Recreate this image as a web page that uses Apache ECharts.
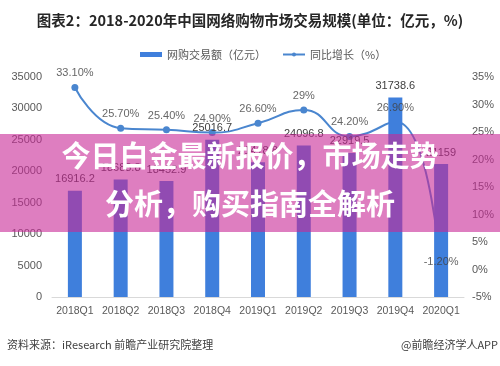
<!DOCTYPE html>
<html>
<head>
<meta charset="utf-8">
<script src="https://cdn.jsdelivr.net/npm/echarts@6/dist/echarts.min.js"></script>
<style>html,body{margin:0;padding:0;background:#fff}#c{width:500px;height:366px}</style>
</head>
<body>
<div id="c"></div>
<script>
var categories = ['2018Q1','2018Q2','2018Q3','2018Q4','2019Q1','2019Q2','2019Q3','2019Q4','2020Q1'];
var volume = [16916.2, 18688.8, 18452.9, 25016.7, 21418.8, 24096.8, 22919.5, 31738.6, 21159];
var growth = [33.1, 25.7, 25.4, 24.9, 26.6, 29, 24.2, 26.9, -1.2];
var growthLabels = ['33.10%','25.70%','25.40%','24.90%','26.60%','29%','24.20%','26.90%','-1.20%'];
var leftTicks = {min: 0, max: 35000, interval: 5000};
var rightTicks = {min: -5, max: 35, interval: 5};
var titleText = '图表2：2018-2020年中国网络购物市场交易规模(单位：亿元，%)';
var seriesNames = ['网购交易额（亿元）', '同比增长（%）'];
var sourceText = '资料来源：iResearch 前瞻产业研究院整理';
var creditText = '@前瞻经济学人APP';
var overlayLines = ['今日白金最新报价，市场走势', '分析，购买指南全解析'];

var FF = "'Liberation Sans', 'Noto Sans CJK SC', sans-serif";
var CJK = "'Noto Sans CJK SC', sans-serif";
var chart = echarts.init(document.getElementById('c'), null, {renderer: 'canvas'});
chart.setOption({
  animation: false,
  backgroundColor: '#fff',
  textStyle: {fontFamily: FF},
  title: {
    text: titleText, left: 'center', top: 8,
    textStyle: {fontSize: 14.5, fontWeight: 'bold', color: '#262626', fontFamily: CJK}
  },
  legend: {
    top: 44, left: 135, itemGap: 16, itemWidth: 22, itemHeight: 5,
    textStyle: {fontSize: 11, color: '#595959', fontFamily: CJK},
    data: [{name: seriesNames[0], icon: 'rect'}, {name: seriesNames[1]}]
  },
  grid: {left: 52, right: 36, top: 77, bottom: 69, containLabel: false},
  xAxis: {
    type: 'category', data: categories,
    axisLine: {lineStyle: {color: '#d9d9d9'}},
    axisTick: {show: false},
    axisLabel: {color: '#595959', fontSize: 10.5, margin: 9, interval: 0}
  },
  yAxis: [{
    type: 'value', min: leftTicks.min, max: leftTicks.max, interval: leftTicks.interval,
    axisLine: {show: false}, axisTick: {show: false}, splitLine: {show: false},
    axisLabel: {color: '#595959', fontSize: 11, margin: 10, formatter: function (v) { return String(v); }}
  }, {
    type: 'value', min: rightTicks.min, max: rightTicks.max, interval: rightTicks.interval,
    axisLine: {show: false}, axisTick: {show: false}, splitLine: {show: false},
    axisLabel: {color: '#595959', fontSize: 11, margin: 8, formatter: function (v) { return v + '%'; }}
  }],
  series: [{
    name: seriesNames[0], type: 'bar', data: volume, barWidth: 14, z: 3,
    itemStyle: {color: '#3f7fdc'},
    label: {show: true, position: 'top', distance: 6, color: '#404040', fontSize: 11,
      formatter: function (p) { return String(p.value); }}
  }, {
    name: seriesNames[1], type: 'line', yAxisIndex: 1, data: growth, smooth: 0.5, z: 2,
    symbol: 'circle', symbolSize: 7,
    lineStyle: {color: '#4a86cf', width: 2},
    itemStyle: {color: '#4a86cf'},
    label: {show: false}
  }, {
    name: 'growthLabels', type: 'scatter', yAxisIndex: 1, data: growth, z: 5,
    symbolSize: 7, itemStyle: {color: 'rgba(0,0,0,0)'}, silent: true,
    label: {show: true, position: 'top', distance: 5, color: '#404040', fontSize: 11,
      formatter: function (p) { return growthLabels[p.dataIndex]; }}
  }],
  graphic: [
    {type: 'rect', left: 0, top: 134, z: 100, shape: {width: 500, height: 98},
     style: {fill: 'rgba(200,40,150,0.6)'}},
    {type: 'text', left: 'center', top: 141, z: 101,
     style: {text: overlayLines[0], fill: '#fff', fontSize: 29, fontWeight: 'bold', fontFamily: CJK}},
    {type: 'text', left: 'center', top: 189, z: 101,
     style: {text: overlayLines[1], fill: '#fff', fontSize: 29, fontWeight: 'bold', fontFamily: CJK}},
    {type: 'text', left: 7, top: 339, z: 10,
     style: {text: sourceText, fill: '#404040', fontSize: 11, fontFamily: CJK}},
    {type: 'text', right: 2, top: 339, z: 10,
     style: {text: creditText, fill: '#404040', fontSize: 11, fontFamily: CJK}}
  ]
});
</script>
</body>
</html>
